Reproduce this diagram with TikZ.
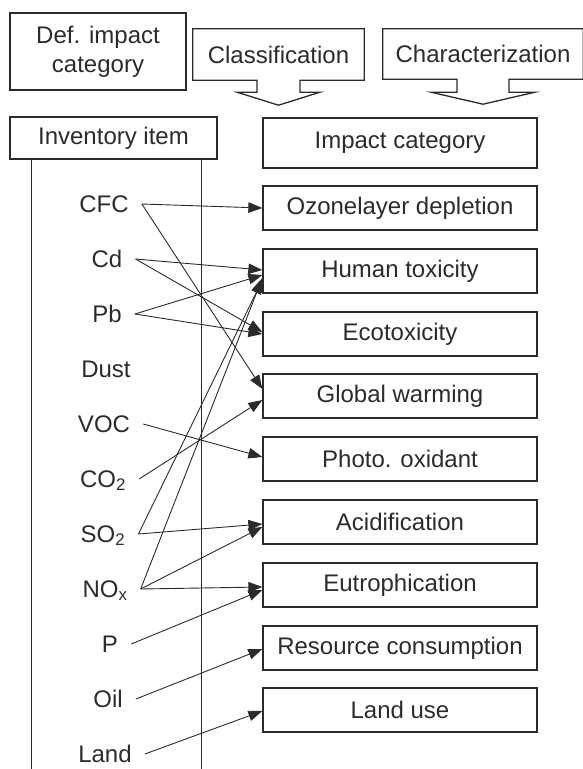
\documentclass[tikz,border=0pt]{standalone}
\usepackage{fontspec}
\setmainfont{Liberation Sans}
\usepackage{tikz}
\usetikzlibrary{arrows.meta,calc}
\definecolor{ink}{HTML}{2B2B2B}
\tikzstyle{box} = [draw=ink, line width=1.3pt, inner sep=0pt, minimum width=274, minimum height=44]
\tikzstyle{item} = [text height=16pt, text depth=0pt, inner xsep=13pt, inner ysep=0pt]
\tikzstyle{link} = [line width=0.9pt, ink, -{Triangle[length=14pt,width=10.5pt]}]

\begin{document}
\begin{tikzpicture}[x=1pt, y=-1pt, every node/.style={font=\fontsize{24}{29}\selectfont, text=ink}]
        \useasboundingbox (0,0) rectangle (582,769);

        % Header
        \node[box, minimum width=176, minimum height=77, align=center] (def) at (98,51.5) {Def. impact\\category};
        \node[inner sep=0pt, minimum width=171, minimum height=51] (cls) at (278.5,54.5) {Classification};
        \node[inner sep=0pt, minimum width=200, minimum height=50] (chr) at (483,54) {Characterization};

        \draw[ink, line width=1.3pt] ($(cls.south)+(-21.5,0)$) -- (cls.south west) -- (cls.north west) -- (cls.north east)
            -- (cls.south east) -- ($(cls.south)+(21.5,0)$) -- ++(0,12) -- ++(20,0) -- ($(cls.south)+(0,25)$)
            -- ($(cls.south)+(-41.5,12)$) -- ++(20,0) -- cycle;
        \draw[ink, line width=1.3pt] ($(chr.south)+(-26,0)$) -- (chr.south west) -- (chr.north west) -- (chr.north east)
            -- (chr.south east) -- ($(chr.south)+(26,0)$) -- ++(0,13) -- ++(26,0) -- ($(chr.south)+(0,25)$)
            -- ($(chr.south)+(-52,13)$) -- ++(26,0) -- cycle;

        \node[box, minimum width=207, minimum height=42] (inv) at (113.5,138) {Inventory item};
        \node[box, minimum height=50] (cat) at (400,143) {Impact category};

        \draw[ink, line width=1.3pt] ($(inv.south west)+(22,0)$) -- ++(0,610);
        \draw[ink, line width=1.3pt] ($(inv.south east)+(-16,0)$) -- ++(0,610);

        % Impact categories
        \node[box] (ozo) at (400,208) {Ozonelayer depletion};
        \node[box] (hum) at (400,271) {Human toxicity};
        \node[box] (eco) at (400,334) {Ecotoxicity};
        \node[box] (glo) at (400,396) {Global warming};
        \node[box] (pho) at (400,459) {Photo. oxidant};
        \node[box] (aci) at (400,522) {Acidification};
        \node[box] (eut) at (400,585) {Eutrophication};
        \node[box] (res) at (400,648) {Resource consumption};
        \node[box] (lus) at (400,710) {Land use};

        % Inventory items
        \node[item] (cfc) at (104,204) {CFC};
        \node[item] (cd) at (107,259) {Cd};
        \node[item] (pb) at (107,314) {Pb};
        \node[item] (dust) at (106,369) {Dust};
        \node[item] (voc) at (104,424) {VOC};
        \node[item] (co2) at (103,479) {CO\textsubscript{2}};
        \node[item] (so2) at (103,534) {SO\textsubscript{2}};
        \node[item] (nox) at (105,589) {NO\textsubscript{x}};
        \node[item] (p) at (110,644) {P};
        \node[item] (oil) at (108,699) {Oil};
        \node[item] (land) at (105,754) {Land};

        \draw[link] (cfc.east) -- (ozo.west);
        \draw[link] (cfc.east) -- ($(glo.west)+(0,-7)$);
        \draw[link] (cd.east) -- ($(hum.west)+(0,-1)$);
        \draw[link] (cd.east) -- ($(eco.west)+(0,-2)$);
        \draw[link] (pb.east) -- ($(hum.west)+(0,4)$);
        \draw[link] (pb.east) -- (eco.west);
        \draw[link] (voc.east) -- ($(pho.west)+(0,-2)$);
        \draw[link] (co2.east) -- ($(glo.west)+(0,4)$);
        \draw[link] (so2.east) -- ($(hum.west)+(0,9)$);
        \draw[link] (nox.east) -- ($(hum.west)+(0,7)$);
        \draw[link] (so2.east) -- ($(aci.west)+(0,2)$);
        \draw[link] (nox.east) -- ($(aci.west)+(0,5)$);
        \draw[link] (nox.east) -- ($(eut.west)+(0,2)$);
        \draw[link] (p.east) -- ($(eut.west)+(0,5)$);
        \draw[link] (oil.east) -- ($(res.west)+(0,1)$);
        \draw[link] (land.east) -- ($(lus.west)+(0,1)$);
      \end{tikzpicture}
\end{document}
